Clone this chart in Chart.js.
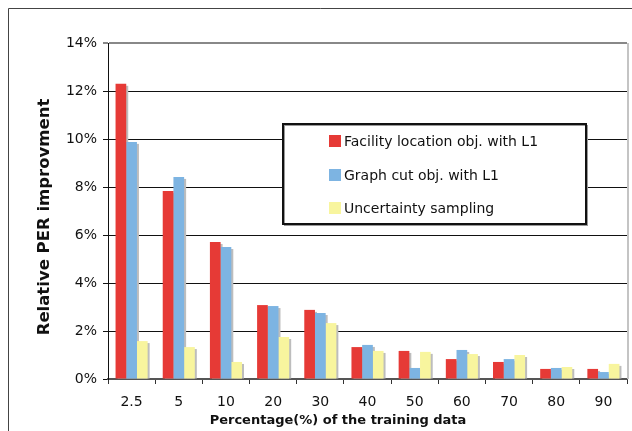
<!DOCTYPE html>
<html>
<head>
<meta charset="utf-8">
<script src="https://cdn.jsdelivr.net/npm/chart.js@4/dist/chart.umd.min.js"></script>
<style>
  html, body { margin: 0; padding: 0; background: #fff; }
  #wrap { width: 632px; height: 431px; position: relative; }
</style>
</head>
<body>
<div id="wrap"><canvas id="c" width="632" height="431"></canvas></div>
<script>
const categories = ['2.5', '5', '10', '20', '30', '40', '50', '60', '70', '80', '90'];
const seriesNames = ['Facility location obj. with L1', 'Graph cut obj. with L1', 'Uncertainty sampling'];
const facilityL1 = [12.3, 7.83, 5.71, 3.08, 2.88, 1.33, 1.17, 0.83, 0.71, 0.42, 0.42];
const graphCutL1 = [9.88, 8.42, 5.5, 3.04, 2.75, 1.42, 0.46, 1.21, 0.83, 0.46, 0.29];
const uncertainty = [1.58, 1.33, 0.71, 1.75, 2.33, 1.17, 1.13, 1.04, 1.0, 0.5, 0.63];
const yTicks = [0, 2, 4, 6, 8, 10, 12, 14];
const xTitle = 'Percentage(%) of the training data';
const yTitle = 'Relative PER improvment';

const colors = ['#E63A36', '#7DB4E2', '#F8F59E'];
const FONT = '"DejaVu Sans", Verdana, sans-serif';

const shadowPlugin = {
  id: 'barShadow',
  beforeDatasetsDraw(chart) {
    const ctx = chart.ctx;
    ctx.save();
    ctx.fillStyle = '#BDBDBD';
    chart.data.datasets.forEach((ds, i) => {
      const meta = chart.getDatasetMeta(i);
      meta.data.forEach(el => {
        const w = el.width;
        ctx.fillRect(el.x - w / 2 + 2, el.y + 2, w, el.base - el.y - 2);
      });
    });
    ctx.restore();
  }
};

const decorPlugin = {
  id: 'decor',
  beforeDraw(chart) {
    const ctx = chart.ctx;
    ctx.save();
    ctx.fillStyle = '#fff';
    ctx.fillRect(0, 0, chart.width, chart.height);
    ctx.strokeStyle = '#444';
    ctx.lineWidth = 1;
    ctx.beginPath();
    ctx.moveTo(8.5, chart.height);
    ctx.lineTo(8.5, 8.5);
    ctx.lineTo(chart.width, 8.5);
    ctx.stroke();
    ctx.restore();
  },
  afterDraw(chart) {
    const ctx = chart.ctx;
    const a = chart.chartArea;
    ctx.save();
    ctx.strokeStyle = '#C4C4C4';
    ctx.lineWidth = 2;
    ctx.beginPath();
    ctx.moveTo(a.right + 1, a.top);
    ctx.lineTo(a.right + 1, a.bottom);
    ctx.stroke();

    const lx = 283, ly = 124, lw = 303, lh = 100;
    ctx.fillStyle = '#fff';
    ctx.fillRect(lx, ly, lw, lh);
    ctx.strokeStyle = '#999';
    ctx.lineWidth = 1;
    ctx.strokeRect(lx + 1.5, ly + 1.5, lw, lh);
    ctx.strokeStyle = '#111';
    ctx.lineWidth = 2;
    ctx.strokeRect(lx, ly, lw, lh);
    ctx.font = '14px ' + FONT;
    ctx.textBaseline = 'middle';
    ctx.textAlign = 'left';
    const rows = [141, 175, 208];
    chart.data.datasets.forEach((ds, i) => {
      ctx.fillStyle = ds.backgroundColor;
      ctx.fillRect(329, rows[i] - 6, 12, 12);
      ctx.fillStyle = '#111';
      ctx.fillText(ds.label, 344, rows[i] + 1);
    });

    ctx.fillStyle = '#111';
    ctx.font = 'bold 13px ' + FONT;
    ctx.textAlign = 'center';
    ctx.textBaseline = 'middle';
    ctx.fillText(xTitle, 338, 421);
    ctx.save();
    ctx.translate(45, 217);
    ctx.rotate(-Math.PI / 2);
    ctx.font = 'bold 16.5px ' + FONT;
    ctx.fillText(yTitle, 0, 0);
    ctx.restore();
    ctx.restore();
  }
};

new Chart(document.getElementById('c'), {
  type: 'bar',
  data: {
    labels: categories,
    datasets: [
      { label: seriesNames[0], data: facilityL1, backgroundColor: colors[0] },
      { label: seriesNames[1], data: graphCutL1, backgroundColor: colors[1] },
      { label: seriesNames[2], data: uncertainty, backgroundColor: colors[2] }
    ]
  },
  options: {
    responsive: false,
    animation: false,
    devicePixelRatio: 1,
    layout: { padding: { top: 43, right: 5, left: 0, bottom: 0 } },
    datasets: { bar: { categoryPercentage: 0.68, barPercentage: 1.0, borderWidth: 0 } },
    plugins: { legend: { display: false }, tooltip: { enabled: false } },
    scales: {
      x: {
        afterFit(s) { s.height = 52; },
        grid: { offset: true, drawOnChartArea: false, tickLength: 5, color: '#333' },
        border: { color: '#555', width: 2 },
        ticks: { color: '#111', font: { family: FONT, size: 14 }, padding: 10, autoSkip: false, maxRotation: 0 }
      },
      y: {
        min: 0, max: 14,
        afterFit(s) { s.width = 108; },
        afterBuildTicks(s) { s.ticks = yTicks.map(v => ({ value: v })); },
        grid: {
          tickLength: 5,
          color: ctx => (ctx.tick && ctx.tick.value === 14) ? '#888' : '#111',
          lineWidth: ctx => (ctx.tick && ctx.tick.value === 14) ? 2 : 1
        },
        border: { color: '#111', width: 1 },
        ticks: { color: '#111', font: { family: FONT, size: 14 }, padding: 6, callback: v => v + '%' }
      }
    }
  },
  plugins: [decorPlugin, shadowPlugin]
});
</script>
</body>
</html>
